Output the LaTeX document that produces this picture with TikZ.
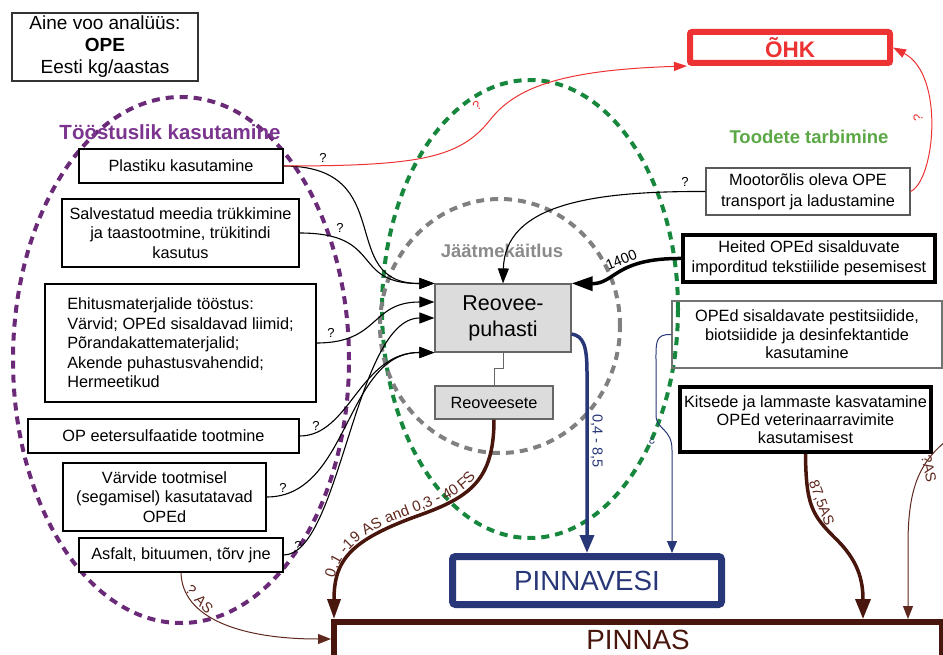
\documentclass[tikz,border=0pt]{standalone}
\usepackage{fontspec}
\setmainfont{Liberation Sans}
\usetikzlibrary{arrows.meta,decorations.text}

\definecolor{purp}{RGB}{106,42,120}
\definecolor{purptext}{RGB}{123,53,143}
\definecolor{grn}{RGB}{22,135,60}
\definecolor{grntext}{RGB}{92,168,70}
\definecolor{gry}{RGB}{128,128,128}
\definecolor{grytext}{RGB}{138,138,138}
\definecolor{ohkred}{RGB}{236,50,50}
\definecolor{navy}{RGB}{40,55,120}
\definecolor{brn}{RGB}{72,22,12}
\definecolor{brnthin}{RGB}{95,40,30}
\definecolor{boxgray}{RGB}{220,220,220}

\newcommand\fsz[2]{\fontsize{#1}{#2}\selectfont}

\tikzset{
  zone/.style={line width=4pt, dash pattern=on 8pt off 6pt},
  zonetitle/.style={font=\fsz{18.5}{20}\bfseries, inner sep=0pt},
  box/.style={draw=black, line width=1.2pt, fill=white, inner sep=0pt,
    align=center, font=\fsz{16.3}{19.5}},
  heavybox/.style={box, line width=4pt},
  plantbox/.style={box, draw=black!60, fill=boxgray},
  qmark/.style={font=\fsz{13}{14}, inner sep=0pt},
  lbl/.style={font=\fsz{14.5}{15}, inner sep=2pt},
  flow/.style={draw=black, line width=1.1pt, -{Triangle[length=15pt,width=11pt]}},
  heavyflow/.style={draw=black, line width=3.5pt, -{Triangle[length=21pt,width=14pt]}},
  airflow/.style={draw=ohkred, line width=1pt, -{Triangle[length=13pt,width=9pt]}},
  waterflow/.style={draw=navy, line width=3.5pt, -{Triangle[length=18pt,width=14pt]}},
  waterthin/.style={draw=navy, line width=1pt, -{Triangle[length=12pt,width=10pt]}},
  soilheavy/.style={draw=brn, line width=3.5pt},
  soilthin/.style={draw=brnthin, line width=1pt, -{Triangle[length=13pt,width=10pt]}}
}

\begin{document}
\begin{tikzpicture}[x=1pt,y=-1pt]
\useasboundingbox (0,0) rectangle (943,655);

% sector outlines
\draw[zone, purp] (181,360) ellipse [x radius=168pt, y radius=263pt];
\draw[zone, grn]  (530,309) ellipse [x radius=148pt, y radius=229pt];
\draw[zone, gry]  (500,326) ellipse [x radius=120pt, y radius=127pt];

\node[zonetitle, font=\fsz{20.5}{22}\bfseries, text=purptext] (tz1) at (170,132) {Tööstuslik kasutamine};
\node[zonetitle, text=grntext] (tz2) at (809,137) {Toodete tarbimine};
\node[zonetitle, text=grytext] (tz3) at (502,251) {Jäätmekäitlus};

% heading
\node[draw=black!80, line width=1.2pt, minimum width=186pt, minimum height=68pt,
  inner sep=0pt, align=center, font=\fsz{19}{22}] (title) at (105,47)
  {Aine voo analüüs:\\\textbf{OPE}\\Eesti kg/aastas};

% receiving compartments
\node[draw=ohkred, line width=6pt, rounded corners=2pt, minimum width=200pt,
  minimum height=31pt, inner sep=0pt, fill=white, text=ohkred,
  font=\fsz{22.5}{24}\bfseries] (ohk) at (790,47.5) {ÕHK};
\node[draw=navy, line width=7pt, rounded corners=3pt, minimum width=269pt,
  minimum height=48pt, inner sep=0pt, fill=white, text=navy,
  font=\fsz{27.7}{30}] (pv) at (587,580.5) {PINNAVESI};
\node[draw=brn, line width=6pt, minimum width=608pt, minimum height=36pt,
  inner sep=0pt, fill=white, text=brn, font=\fsz{27.8}{30}] (pinnas) at (638,640) {PINNAS};

% industrial sources
\node[box, minimum width=204pt, minimum height=34pt] (plast) at (181,166) {Plastiku kasutamine};
\node[box, minimum width=237pt, minimum height=68pt] (salv) at (180.5,233)
  {Salvestatud meedia trükkimine\\ja taastootmine, trükitindi\\kasutus};
\node[box, minimum width=271pt, minimum height=118pt, align=left] (ehit) at (180.5,343)
  {Ehitusmaterjalide tööstus:\\Värvid; OPEd sisaldavad liimid;\\Põrandakattematerjalid;\\Akende puhastusvahendid;\\Hermeetikud};
\node[box, minimum width=271pt, minimum height=34pt] (opeet) at (163.5,436) {OP eetersulfaatide tootmine};
\node[box, minimum width=203pt, minimum height=68pt] (varv) at (164.5,497)
  {Värvide tootmisel\\(segamisel) kasutatavad\\OPEd};
\node[box, minimum width=204pt, minimum height=34pt] (asf) at (181,555) {Asfalt, bituumen, tõrv jne};

% waste water treatment
\node[plantbox, minimum width=136pt, minimum height=68pt, font=\fsz{21.5}{26}] (reo) at (503,318) {Reovee-\\puhasti};
\node[plantbox, minimum width=118pt, minimum height=33pt] (sete) at (494,402.5) {Reoveesete};

% product use
\node[box, draw=black!65, minimum width=204pt, minimum height=47pt, font=\fsz{16.3}{21}] (moto) at (808,191.5)
  {Mootorõlis oleva OPE\\transport ja ladustamine};
\node[heavybox, minimum width=252pt, minimum height=47pt] (heit) at (809,258.5)
  {Heited OPEd sisalduvate\\imporditud tekstiilide pesemisest};
\node[box, draw=black!55, fill=none, minimum width=270pt, minimum height=67pt, font=\fsz{16.3}{18.5}] (pest) at (807,334.5)
  {OPEd sisaldavate pestitsiidide,\\biotsiidide ja desinfektantide\\kasutamine};
\node[heavybox, minimum width=251pt, minimum height=65pt, font=\fsz{16.3}{18}] (kits) at (805.5,419.5)
  {Kitsede ja lammaste kasvatamine\\OPEd veterinaarravimite\\kasutamisest};

% flows into the treatment plant
\draw[flow] (plast.east) .. controls (400,166) and (335,284) .. (reo.north west);
\draw[flow] (salv.east) .. controls (385,233) and (350,284) .. (reo.north west);
\draw[flow] (ehit.east) .. controls (380,343) and (370,302) .. ([yshift=16pt]reo.west);
\draw[flow] (asf.east) .. controls (340,555) and (355,318) .. (reo.west);
\draw[flow] (opeet.east) .. controls (350,436) and (360,352) .. (reo.south west);
\draw[flow] (varv.east) .. controls (350,497) and (345,352) .. (reo.south west);
\draw[flow] (moto.west) .. controls (590,191) and (505,205) .. (reo.north);
\draw[heavyflow] (heit.west) .. controls (615,258) and (615,284) .. (reo.north east)
  node[pos=.42, sloped, above, lbl] (l1400) {1400};

\node[qmark] (q1) at (323,158) {?};
\node[qmark] (q2) at (340,228) {?};
\node[qmark] (q3) at (331,333) {?};
\node[qmark] (q4) at (316,426) {?};
\node[qmark] (q5) at (283,488) {?};
\node[qmark] (q6) at (298,546) {?};
\node[qmark] (q7) at (685,182) {?};

% plant to sludge
\draw[draw=black!60, line width=1pt] (reo.south) -- ++(0,16) -| (sete.north);

% emissions to air
\draw[airflow] (plast.east) .. controls (420,166) and (460,158) .. (490,120)
  .. controls (515,88) and (560,70) .. (ohk.south west);
\node[qmark, text=ohkred, rotate=40] (q8) at (477,106) {?};
\draw[airflow] (moto.east) .. controls (935,180) and (945,75) .. (ohk.east);
\node[qmark, text=ohkred, rotate=90] (q9) at (918,118) {?};

% discharges to surface water
\draw[waterflow] ([yshift=-16pt]reo.east) .. controls (583,336) and (587,345) .. (587,372)
  -- (pv.north) node[pos=.38, rotate=-90, anchor=south, lbl, text=navy] (l085) {0,4 - 8,5};
\draw[waterthin] (pest.west) .. controls (655,334) and (656,342) .. (656,362) -- (656,415)
  .. controls (656,430) and (672,428) .. (672,450) -- ([xshift=85pt]pv.north);
\node[qmark, text=navy, font=\fsz{11}{12}, rotate=180] (q10) at (652,440) {?};

% discharges to soil
\draw[soilheavy, {Triangle[length=20pt,width=13pt]}-,
  postaction={decorate, decoration={text along path, raise=4pt,
    text align={left indent=40pt}, text color=brnthin,
    text={|\fsz{15}{15}|0,1 -19 AS and 0,3 - 40 FS}}}]
  ([xshift=3pt]pinnas.north west) .. controls (334,560) and (350,540) .. (420,515)
  .. controls (470,497) and (494,480) .. (sete.south);
\draw[soilthin] (asf.south) .. controls (182,618) and (240,639) .. ([yshift=1pt]pinnas.west)
  node[pos=.27, sloped, above, lbl, text=brnthin] (lasf) {? AS};
\draw[soilheavy, -{Triangle[length=20pt,width=15pt]}] (kits.south)
  .. controls (806,505) and (812,515) .. (835,538)
  node[pos=.5, sloped, above, lbl, text=brnthin] (lkits) {87,5AS}
  .. controls (858,560) and (863,580) .. ([xshift=225pt]pinnas.north);
\coordinate (rsrc) at (950,438);
\draw[soilthin] (rsrc) .. controls (918,462) and (908,490) .. (908,545)
  node[pos=.4, rotate=-78, anchor=south, lbl, text=brnthin] (lright) {?AS}
  -- ([xshift=270pt]pinnas.north);

\end{tikzpicture}
\end{document}
